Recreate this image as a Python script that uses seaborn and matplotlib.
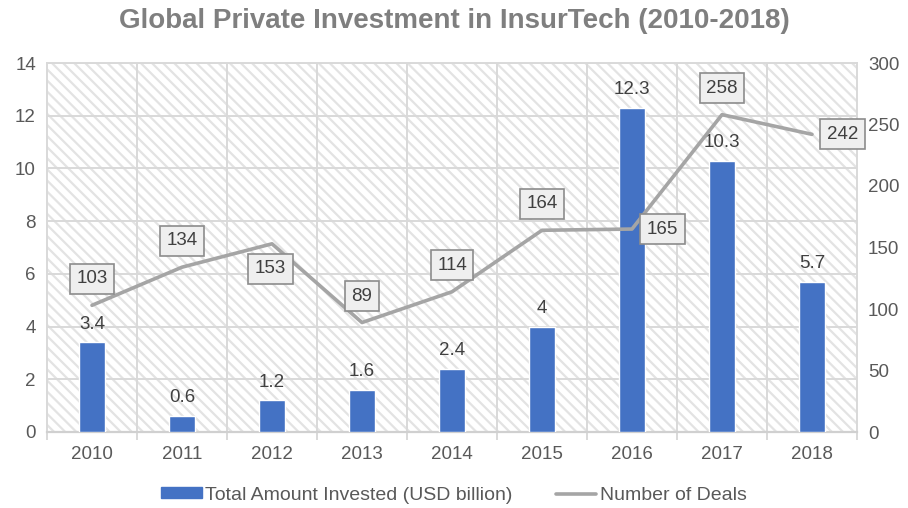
import numpy as np
import pandas as pd
import matplotlib
matplotlib.use("Agg")
import matplotlib.pyplot as plt
import matplotlib.patches as mpatches
from matplotlib.lines import Line2D
import seaborn as sns

years = ["2010", "2011", "2012", "2013", "2014", "2015", "2016", "2017", "2018"]
invested = [3.4, 0.6, 1.2, 1.6, 2.4, 4, 12.3, 10.3, 5.7]
invested_labels = ["3.4", "0.6", "1.2", "1.6", "2.4", "4", "12.3", "10.3", "5.7"]
deals = [103, 134, 153, 89, 114, 164, 165, 258, 242]
deal_label_side = ["above", "above", "below", "above", "above", "above", "right", "above", "right"]

sns.set_theme(style="white")
plt.rcParams["font.family"] = ["Liberation Sans", "DejaVu Sans"]
plt.rcParams["hatch.linewidth"] = 1.6

TXT = "#595959"
GRID = "#d9d9d9"
BAR = "#4472c4"
LINE = "#a5a5a5"

fig = plt.figure(figsize=(9.08, 5.08), dpi=100)
ax = fig.add_axes([47/908, 1-432/508, 810/908, 369/508])

df = pd.DataFrame({"year": years, "invested": invested, "deals": deals,
                   "pos": np.arange(len(years))})

bg = mpatches.Rectangle((0, 0), 1, 1, transform=ax.transAxes, facecolor="white",
                        edgecolor="#e3e3e3", hatch="\\\\\\", linewidth=0, zorder=0)
ax.add_patch(bg)

sns.barplot(data=df, x="year", y="invested", color=BAR, width=0.29, ax=ax,
            saturation=1, zorder=3)
ax.set_ylim(0, 14)
ax.set_xlim(-0.5, len(years) - 0.5)
ax.set_yticks(np.arange(0, 15, 2))
ax.set_xlabel("")
ax.set_ylabel("")

for y in np.arange(2, 15, 2):
    ax.axhline(y, color=GRID, lw=1.4, zorder=1)
for b in np.arange(0.5, len(years) - 0.5, 1):
    ax.axvline(b, color=GRID, lw=1.4, zorder=1)

for s in ax.spines.values():
    s.set_color(GRID)
    s.set_linewidth(1.4)
ax.spines["bottom"].set_color("#d0d0d0")
ax.spines["bottom"].set_linewidth(1.6)

ax.set_xticks(np.arange(len(years)), labels=years)
ax.set_xticks(np.arange(-0.5, len(years), 1), minor=True)
ax.tick_params(axis="x", which="major", length=0, pad=10, labelsize=13.5, labelcolor=TXT)
ax.tick_params(axis="x", which="minor", length=6, width=1.4, color=GRID, bottom=True)
ax.tick_params(axis="y", length=0, pad=8, labelsize=13.5, labelcolor=TXT)

for i, (v, lab) in enumerate(zip(invested, invested_labels)):
    ax.annotate(lab, (i, v), xytext=(0, 7), textcoords="offset points",
                ha="center", va="bottom", fontsize=13.5, color="#404040", zorder=6)

ax2 = ax.twinx()
sns.lineplot(data=df, x="pos", y="deals", color=LINE, lw=2.6, ax=ax2, zorder=4)
ax2.set_ylim(0, 300)
ax2.set_xlim(-0.5, len(years) - 0.5)
ax2.set_yticks(np.arange(0, 301, 50))
ax2.set_ylabel("")
ax2.set_xlabel("")
ax2.tick_params(axis="y", length=0, pad=8, labelsize=13.5, labelcolor=TXT)
for s in ax2.spines.values():
    s.set_visible(False)

offsets = {"above": (0, 19, "center", "center"),
           "below": (-1, -18, "center", "center"),
           "right": (22, 0, "center", "center")}
for i, (v, side) in enumerate(zip(deals, deal_label_side)):
    dx, dy, ha, va = offsets[side]
    ax2.annotate(str(v), (i, v), xytext=(dx, dy), textcoords="offset points",
                 ha=ha, va=va, fontsize=13.5, color="#404040", zorder=7,
                 bbox=dict(boxstyle="square,pad=0.35", facecolor="#efefef",
                           edgecolor="#8c8c8c", lw=1.2))

fig.suptitle("Global Private Investment in InsurTech (2010-2018)", x=0.5, y=0.985,
             fontsize=20, fontweight="bold", color="#7f7f7f")

handles = [mpatches.Patch(color=BAR, label="Total Amount Invested (USD billion)"),
           Line2D([0], [0], color=LINE, lw=2.6, label="Number of Deals")]
fig.legend(handles=handles, loc="center", bbox_to_anchor=(0.5, 0.025), ncol=2,
           frameon=False, fontsize=14, labelcolor=TXT, handlelength=2.1,
           handleheight=0.5, handletextpad=0.2, columnspacing=2.2)

fig.savefig("out.png", dpi=100)
